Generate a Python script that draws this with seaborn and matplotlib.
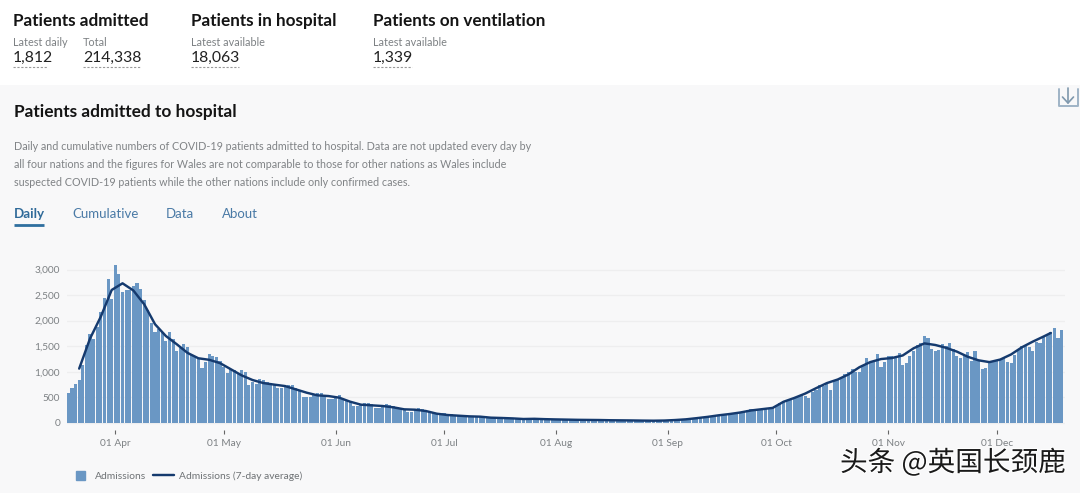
import numpy as np
import pandas as pd
import matplotlib
matplotlib.use("Agg")
import matplotlib.pyplot as plt
import matplotlib.dates as mdates
import matplotlib.patheffects as pe
from matplotlib.lines import Line2D
from matplotlib.patches import Patch, Rectangle
import seaborn as sns

mar = [590,680,770,850,1130,1530,1740,1640,1870,2170,2450,2810,2430]
apr = [3090,2920,2560,2590,2590,2670,2740,2610,2400,2200,1950,1780,1840,1770,1600,
       1770,1650,1400,1470,1540,1490,1320,1300,1280,1080,1200,1340,1300,1290,1220]
may = [1100,980,1060,1040,970,1040,990,740,800,760,860,840,800,790,760,690,690,700,745,740,
       690,640,500,500,500,560,585,585,540,470,460]
jun = [500,550,470,440,410,340,340,370,400,400,370,300,300,340,370,360,340,310,290,280,
       210,220,260,300,270,260,240,200,180,160]
jul = [190,180,170,160,150,130,135,140,130,125,120,115,110,105,100,95,100,85,80,85,
       75,80,70,80,90,85,80,75,70,65,75]
aug = [70,65,60,70,60,60,55,60,60,55,50,50,55,50,55,50,50,45,50,45,
       50,45,45,45,40,40,45,40,40,50,50]
sep = [55,60,60,65,70,80,85,100,95,100,120,130,135,140,160,165,185,190,200,210,
       215,225,250,265,270,280,280,290,290,300]
oct_ = [350,400,430,450,440,480,520,540,530,490,610,650,750,730,780,640,840,860,900,950,
        1000,1050,1000,1000,1130,1270,1200,1220,1340,1100,1200]
nov = [1300,1310,1280,1370,1130,1180,1310,1400,1530,1560,1700,1660,1450,1410,1420,1550,1500,1560,1450,1300,
       1270,1330,1380,1220,1410,1220,1060,1070,1190,1220]
dec = [1230,1240,1270,1200,1180,1320,1450,1500,1530,1480,1410,1580,1570,1700,1740,1780,1860,1670,1812]
admissions = mar + apr + may + jun + jul + aug + sep + oct_ + nov + dec

average = [1063,1650,2080,2600,2730,2590,2320,1930,1700,1540,1370,1265,1235,1170,
           1050,930,840,780,750,722,657,592,540,527,
           495,417,358,345,332,306,267,260,234,182,
           156,143,130,124,104,98,90,78,82,75,
           70,66,62,60,58,54,52,50,47,45,48,
           58,72,95,120,150,175,205,245,270,295,
           415,490,575,680,780,850,950,1090,1190,1250,
           1270,1320,1460,1556,1525,1470,1395,1295,1225,1190,
           1240,1340,1480,1590,1690,1760]

y_ticks = [0,500,1000,1500,2000,2500,3000]
month_ticks = ["2020-04-01","2020-05-01","2020-06-01","2020-07-01","2020-08-01",
               "2020-09-01","2020-10-01","2020-11-01","2020-12-01"]
month_labels = ["01 Apr","01 May","01 Jun","01 Jul","01 Aug","01 Sep","01 Oct","01 Nov","01 Dec"]

W, H = 1080, 493
sns.set_theme(style="white")
plt.rcParams['font.family'] = ['Lato', 'DejaVu Sans']

fig = plt.figure(figsize=(W/100, H/100), dpi=100, facecolor="white")

# page overlay in pixel coordinates
page = fig.add_axes([0, 0, 1, 1], zorder=0)
page.set_xlim(0, W); page.set_ylim(H, 0); page.axis("off")
page.add_patch(Rectangle((0, 85), W, H-85, color="#f8f8f9", lw=0))

INK = "#141414"; GREY = "#7d8184"; BLUE = "#4a7aa6"
def t(x, y, s, size, color=INK, weight="normal", **kw):
    return page.text(x, y + 1, s, fontsize=size, color=color, fontweight=weight, va="center", ha="left", **kw)

for x, s in [(13,"Patients admitted"),(191,"Patients in hospital"),(373,"Patients on ventilation")]:
    t(x, 20, s, 12.3, weight="bold")
for x, s in [(13,"Latest daily"),(83,"Total"),(191,"Latest available"),(373,"Latest available")]:
    t(x, 41, s, 7.8, color=GREY)
for x, x2, s in [(13,48,"1,812"),(83,140,"214,338"),(191,239,"18,063"),(373,412,"1,339")]:
    t(x, 57, s, 11.3, color="#222222")
    page.plot([x, x2], [67, 67], color="#9a9a9a", lw=0.8, ls=(0, (2, 1.5)))

t(14, 111, "Patients admitted to hospital", 12.4, weight="bold")
desc = ["Daily and cumulative numbers of COVID-19 patients admitted to hospital. Data are not updated every day by",
        "all four nations and the figures for Wales are not comparable to those for other nations as Wales include",
        "suspected COVID-19 patients while the other nations include only confirmed cases."]
for y, s in zip([145, 163.5, 182], desc):
    t(14, y, s, 7.76, color="#808386")
t(14, 213, "Daily", 9.6, color="#2f6a99", weight="bold")
t(72, 213, "Cumulative", 9.5, color=BLUE)
t(166, 213, "Data", 9.5, color=BLUE)
t(222, 213, "About", 9.5, color=BLUE)
page.plot([14, 44], [224.5, 224.5], color="#2f6f9f", lw=2, solid_capstyle="butt")

# download icon
icon = "#9fb4c6"
page.plot([1058.5, 1058.5, 1078, 1078], [89, 106, 106, 89], color=icon, lw=1.4)
page.plot([1068, 1068], [88, 103], color="#7f98ad", lw=1.2)
page.plot([1062.5, 1068, 1073.5], [97, 103, 97], color="#7f98ad", lw=1.2)

# chart axes: 0 at y=423, 3000 at y=269.5; axis itself sits lower so ticks float below the bars
px_per_unit = (423 - 269.5) / 3000
ax_top, ax_zero, ax_bottom = 262, 423, 430
ax = fig.add_axes([67/W, 1 - ax_bottom/H, (1065-67)/W, (ax_bottom-ax_top)/H], zorder=1)
ax.patch.set_alpha(0)

dates = pd.date_range("2020-03-19", periods=len(admissions), freq="D")
bars = pd.DataFrame({"day": mdates.date2num(dates), "admissions": admissions})
avg_dates = pd.date_range("2020-03-22", "2020-12-14", freq="3D").append(pd.DatetimeIndex(["2020-12-16"]))
line = pd.DataFrame({"day": mdates.date2num(avg_dates), "average": average})

BAR = "#6a97c4"; LINE = "#153a6e"
sns.barplot(data=bars, x="day", y="admissions", native_scale=True, color=BAR,
            saturation=1, width=0.86, ax=ax, zorder=2, linewidth=0)
sns.lineplot(data=line, x="day", y="average", color=LINE, lw=1.75, ax=ax, zorder=3)

first = mdates.date2num(pd.Timestamp("2020-04-01"))
ax.set_xlim(first - (115.3-67)/3.612, first + (1065-115.3)/3.612)
ax.set_ylim(-(ax_bottom-ax_zero)/px_per_unit, (ax_zero-ax_top)/px_per_unit)
ax.set_yticks(y_ticks)
ax.set_yticklabels([f"{v:,}" for v in y_ticks], fontsize=7.3, color="#7d8184")
ax.set_xticks(mdates.date2num(pd.to_datetime(month_ticks)))
ax.set_xticklabels(month_labels, fontsize=7.3, color="#7d8184")
ax.set_xlabel(""); ax.set_ylabel("")
ax.tick_params(axis="y", length=0, pad=5)
ax.tick_params(axis="x", length=2.6, width=0.8, color="#666666", pad=3.8, direction="out", bottom=True)
ax.grid(axis="y", color="#eeeeef", lw=1)
ax.grid(axis="x", visible=False)
ax.set_axisbelow(True)
sns.despine(ax=ax, left=True, bottom=True, top=True, right=True)

handles = [Patch(color=BAR), Line2D([0], [0], color=LINE, lw=1.75)]
leg = fig.legend(handles, ["Admissions", "Admissions (7-day average)"], loc="center left",
                 bbox_to_anchor=(60/W, 1 - 476/H), ncol=2, frameon=False, fontsize=7.4,
                 handlelength=2.0, handleheight=0.9, columnspacing=0.7, handletextpad=0.5)
for txt in leg.get_texts():
    txt.set_color("#6e7275")
leg.legend_handles[0].set_width(6.5); leg.legend_handles[0].set_height(6.5); leg.legend_handles[0].set_x(5)

# watermark
wm = page.text(840, 463, "头条 @英国长颈鹿", fontsize=19.9, color="#1a1a1a", va="center", ha="left",
               family=["Noto Sans CJK SC", "DejaVu Sans"], zorder=10)
wm.set_path_effects([pe.withStroke(linewidth=1.6, foreground="white")])

fig.savefig("out.png", dpi=100, facecolor=fig.get_facecolor())
